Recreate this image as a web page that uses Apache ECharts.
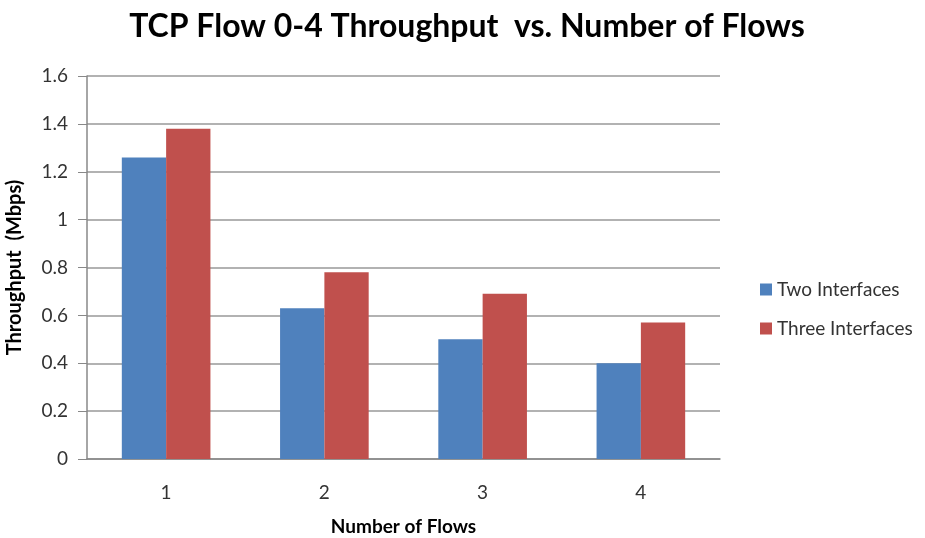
<!DOCTYPE html>
<html>
<head>
<meta charset="utf-8">
<script src="https://cdn.jsdelivr.net/npm/echarts@6/dist/echarts.min.js"></script>
<style>
  body { margin: 0; background: #fff; }
  #chart { width: 925px; height: 538px; }
</style>
</head>
<body>
<div id="chart"></div>
<script>
// number of flows on the x axis
var flows = ['1', '2', '3', '4'];
// throughput in Mbps
var twoInterfaces = [1.26, 0.63, 0.50, 0.40];
var threeInterfaces = [1.38, 0.78, 0.69, 0.57];

var font = 'Lato, "Open Sans", sans-serif';

var chart = echarts.init(document.getElementById('chart'));
chart.setOption({
  animation: false,
  title: {
    text: 'TCP Flow 0-4 Throughput  vs. Number of Flows',
    left: 462,
    textAlign: 'center',
    top: 6,
    textStyle: { fontFamily: font, fontWeight: 'bold', fontSize: 32, color: '#000' }
  },
  grid: { left: 87, right: 205, top: 76, bottom: 79, outerBoundsMode: 'none' },
  legend: {
    orient: 'vertical',
    left: 755,
    top: 275,
    itemWidth: 12,
    itemHeight: 12,
    itemGap: 20,
    icon: 'rect',
    textStyle: { fontFamily: font, fontSize: 19, color: '#333' },
    data: ['Two Interfaces', 'Three Interfaces']
  },
  xAxis: {
    type: 'category',
    data: flows,
    name: 'Number of Flows',
    nameLocation: 'middle',
    nameGap: 58,
    nameTextStyle: { fontFamily: font, fontWeight: 'bold', fontSize: 19, color: '#000' },
    axisLine: { lineStyle: { color: '#888', width: 1.5 } },
    axisTick: { show: false },
    axisLabel: { fontFamily: font, fontSize: 19, color: '#333', margin: 24 }
  },
  yAxis: {
    type: 'value',
    min: 0,
    max: 1.6,
    interval: 0.2,
    name: 'Throughput  (Mbps)',
    nameLocation: 'middle',
    nameGap: 62,
    nameTextStyle: { fontFamily: font, fontWeight: 'bold', fontSize: 20, color: '#000' },
    axisLine: { show: true, lineStyle: { color: '#888', width: 1.5 } },
    axisTick: { show: true, length: 9, lineStyle: { color: '#888' } },
    splitLine: { lineStyle: { color: '#999', width: 1.5 } },
    axisLabel: {
      fontFamily: font, fontSize: 19, color: '#333', margin: 19,
      formatter: function (v) { return +v.toFixed(1); }
    }
  },
  series: [
    {
      name: 'Two Interfaces',
      type: 'bar',
      data: twoInterfaces,
      barWidth: '28%',
      barGap: '0%',
      itemStyle: { color: '#4F81BD' }
    },
    {
      name: 'Three Interfaces',
      type: 'bar',
      data: threeInterfaces,
      barWidth: '28%',
      itemStyle: { color: '#C0504D' }
    }
  ]
});
</script>
</body>
</html>
